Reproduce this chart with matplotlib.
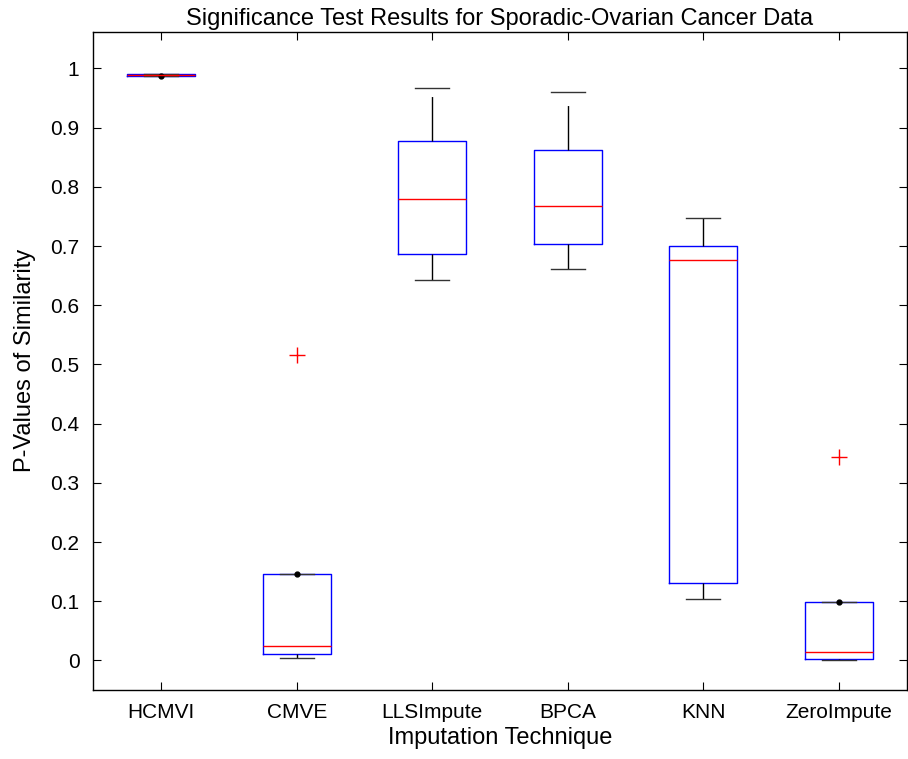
import matplotlib
matplotlib.use('Agg')
import matplotlib.pyplot as plt

methods = ['HCMVI', 'CMVE', 'LLSImpute', 'BPCA', 'KNN', 'ZeroImpute']
q1 = [0.988, 0.010, 0.687, 0.703, 0.131, 0.003]
med = [0.9895, 0.024, 0.779, 0.767, 0.677, 0.0135]
q3 = [0.9905, 0.1465, 0.878, 0.862, 0.700, 0.0985]
whislo = [0.987, 0.004, 0.642, 0.661, 0.103, 0.0005]
whishi = [0.991, 0.1465, 0.967, 0.960, 0.7475, 0.0985]
outliers = [[], [0.5155], [], [], [], [0.3443]]
# black dots drawn in the original
dot_pos = [1, 2, 6]
dot_val = [0.987, 0.146, 0.0985]

plt.rcParams['font.family'] = ['Liberation Sans', 'DejaVu Sans']

fig = plt.figure(figsize=(9.08, 7.59), dpi=100)
ax = fig.add_axes([0.1028, 0.0909, 0.8958, 0.8673])

stats = []
for i in range(len(methods)):
    stats.append(dict(q1=q1[i], med=med[i], q3=q3[i], whislo=whislo[i],
                      whishi=whishi[i], fliers=outliers[i]))

pos = list(range(1, len(methods) + 1))
ax.bxp(stats, positions=pos, widths=0.5, showfliers=True,
       boxprops=dict(color='blue', linewidth=1),
       medianprops=dict(color='red', linewidth=1),
       whiskerprops=dict(color='black', linewidth=1, linestyle=(0, (32, 10))),
       capprops=dict(color='#333333', linewidth=1),
       flierprops=dict(marker='+', markeredgecolor='red', markersize=12,
                       markeredgewidth=1, linestyle='none'))
ax.plot(dot_pos, dot_val, 'o', color='black', markersize=3.5)

ax.set_xlim(0.5, 6.5)
ax.set_ylim(-0.05, 1.062)
ax.set_xticks(pos)
ax.set_xticklabels(methods)
ax.set_yticks([0, 0.1, 0.2, 0.3, 0.4, 0.5, 0.6, 0.7, 0.8, 0.9, 1])
ax.set_yticklabels(['0', '0.1', '0.2', '0.3', '0.4', '0.5', '0.6', '0.7', '0.8', '0.9', '1'])
ax.tick_params(direction='in', length=6, width=0.8, labelsize=15,
               top=True, right=True)
ax.tick_params(axis='y', pad=10)
ax.tick_params(axis='x', pad=9)
for s in ax.spines.values():
    s.set_linewidth(1)

ax.set_title('Significance Test Results for Sporadic-Ovarian Cancer Data',
             fontsize=17, pad=5)
ax.set_xlabel('Imputation Technique', fontsize=17, labelpad=4)
ax.set_ylabel('P-Values of Similarity', fontsize=17, labelpad=10)

fig.savefig('out.png', dpi=100)
